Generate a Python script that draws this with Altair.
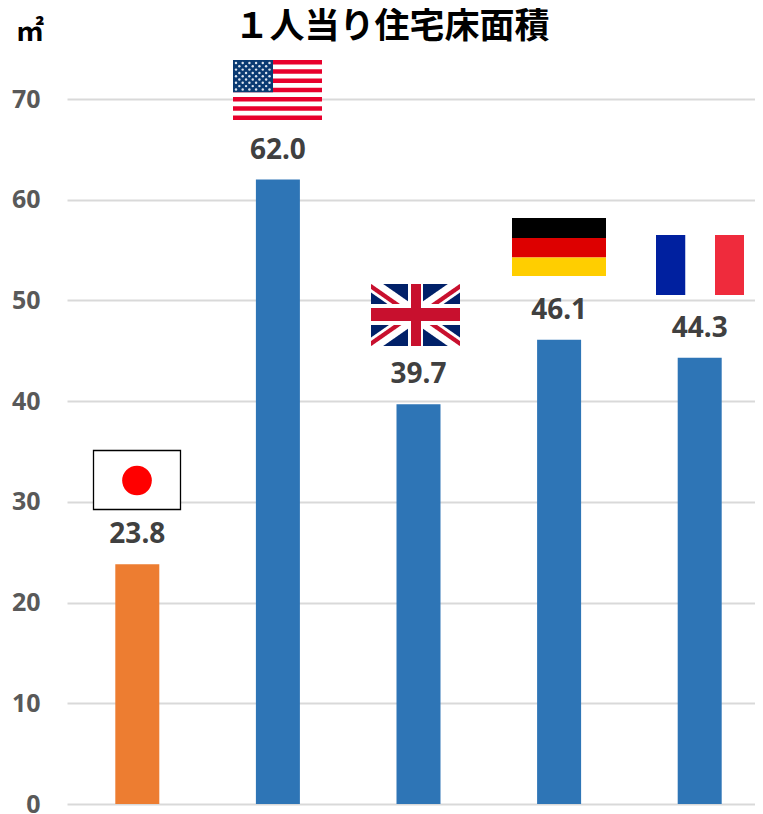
import altair as alt
import numpy as np
import pandas as pd

countries = ["日本", "アメリカ", "イギリス", "ドイツ", "フランス"]
values = [23.8, 62.0, 39.7, 46.1, 44.3]
bar_colors = ["#ED7D31", "#2E75B6", "#2E75B6", "#2E75B6", "#2E75B6"]
tick_values = [0, 10, 20, 30, 40, 50, 60, 70]
title_text = "１人当り住宅床面積"
unit_text = "㎡"

PLOT_LEFT, PLOT_TOP = 67, 99
W, H = 688, 705


def rx(v):
    return v - PLOT_LEFT


def ry(v):
    return v - PLOT_TOP


bars = pd.DataFrame({"country": countries, "value": values, "color": bar_colors})
x_enc = alt.X("country:N", sort=countries,
              scale=alt.Scale(type="band", domain=countries, range=[0, 703], padding=0), axis=None)
y_enc = alt.Y("value:Q", scale=alt.Scale(domain=[0, 70], nice=False),
              axis=alt.Axis(values=tick_values, title=None, grid=True, gridColor="#D9D9D9",
                            gridWidth=2, ticks=False, domain=False, labelPadding=27,
                            labelFont="Noto Sans", labelFontWeight="bold", labelFontSize=25,
                            labelColor="#595959"))

bar_layer = alt.Chart(bars).mark_bar(size=44).encode(
    x=x_enc, y=y_enc, color=alt.Color("color:N", scale=None))
label_layer = alt.Chart(bars).mark_text(
    dy=-29, font="Noto Sans", fontWeight="bold", fontSize=28, color="#404040"
).encode(x=x_enc, y=alt.Y("value:Q", scale=alt.Scale(domain=[0, 70], nice=False), axis=None),
         text=alt.Text("value:Q", format=".1f"))

# flag artwork: rectangles (x0, x1, y0, y1, colour), in picture pixels
rects = []


def add(x0, x1, y0, y1, c):
    rects.append(dict(x=rx(x0), x2=rx(x1), y=ry(y0), y2=ry(y1), c=c))


# USA
us_l, us_r, us_t, us_b = 233, 322, 60, 120
stripe = (us_b - us_t) / 13
add(us_l, us_r, us_t, us_b, "#FFFFFF")
for i in range(0, 13, 2):
    add(us_l, us_r, us_t + i * stripe, us_t + (i + 1) * stripe, "#E8002D")
add(us_l, 273, us_t, 92.3, "#0A3A72")

# UK (background, then saltire below, then crosses)
uk_l, uk_r, uk_t, uk_b = 371, 460, 284, 346
add(uk_l, uk_r, uk_t, uk_b, "#012169")

uk_cross = [(408, 423, uk_t, uk_b, "#FFFFFF"), (uk_l, uk_r, 304, 325, "#FFFFFF"),
            (411, 421, uk_t, uk_b, "#C8102E"), (uk_l, uk_r, 308, 321, "#C8102E")]

# Germany
add(512, 606, 218, 238, "#000000")
add(512, 606, 238, 257.5, "#DD0000")
add(512, 606, 257.5, 276, "#FFCE00")

# France
add(656, 685.5, 235, 295, "#00209F")
add(685.5, 715, 235, 295, "#FFFFFF")
add(715, 744, 235, 295, "#EF2B3C")

flag_df = pd.DataFrame(rects)
cross_df = pd.DataFrame([dict(x=rx(a), x2=rx(b), y=ry(c), y2=ry(d), c=e) for a, b, c, d, e in uk_cross])


def rect_layer(df):
    return alt.Chart(df).mark_rect().encode(
        x=alt.X("x:Q", scale=None, axis=None), x2="x2:Q",
        y=alt.Y("y:Q", scale=None, axis=None), y2="y2:Q",
        color=alt.Color("c:N", scale=None))


# UK diagonals as bands
diag_rows = []
xs = np.arange(uk_l, uk_r + 0.01, 0.5)
slope = (uk_b - uk_t) / (uk_r - uk_l)
for did, sign in enumerate([1, -1]):
    for band, half, shift, col in [("w", 8.5, 0, "#FFFFFF"), ("r", 2.6, 2.4, "#C8102E")]:
        for xv in xs:
            cy = uk_t + slope * (xv - uk_l) if sign > 0 else uk_b - slope * (xv - uk_l)
            # red stripe sits off-centre, alternating around the saltire
            off = shift if (xv < (uk_l + uk_r) / 2) else -shift
            if sign < 0:
                off = -off
            a = float(np.clip(cy + off - half, uk_t, uk_b))
            b = float(np.clip(cy + off + half, uk_t, uk_b))
            diag_rows.append(dict(x=rx(xv), y=ry(a), y2=ry(b), id=f"{did}{band}", c=col))
diag_df = pd.DataFrame(diag_rows)


def diag_layer(band):
    return alt.Chart(diag_df[diag_df.id.str.endswith(band)]).mark_area(interpolate="linear").encode(
        x=alt.X("x:Q", scale=None, axis=None),
        y=alt.Y("y:Q", scale=None, axis=None), y2="y2:Q",
        detail="id:N", color=alt.Color("c:N", scale=None))


# US stars
star_rows = []
for r in range(9):
    n = 6 if r % 2 == 0 else 5
    for k in range(n):
        sx = 236.0 + 6.7 * k + (0 if r % 2 == 0 else 3.35)
        sy = 63.0 + 3.3 * r
        star_rows.append(dict(x=rx(sx), y=ry(sy)))
star_layer = alt.Chart(pd.DataFrame(star_rows)).mark_point(
    filled=True, shape="circle", size=6, color="#DCE4EF", opacity=1
).encode(x=alt.X("x:Q", scale=None, axis=None), y=alt.Y("y:Q", scale=None, axis=None))

# Japan
jp_rect = alt.Chart(pd.DataFrame([dict(x=rx(93.5), x2=rx(180.5), y=ry(450.5), y2=ry(509.5))])).mark_rect(
    fill="#FFFFFF", stroke="#000000", strokeWidth=1.3
).encode(x=alt.X("x:Q", scale=None, axis=None), x2="x2:Q",
         y=alt.Y("y:Q", scale=None, axis=None), y2="y2:Q")
jp_sun = alt.Chart(pd.DataFrame([dict(x=rx(137), y=ry(480.5))])).mark_point(
    filled=True, shape="circle", size=880, color="#FF0000", opacity=1
).encode(x=alt.X("x:Q", scale=None, axis=None), y=alt.Y("y:Q", scale=None, axis=None))

title_layer = alt.Chart(pd.DataFrame([dict(t=title_text, x=rx(392), y=ry(27))])).mark_text(
    font="Noto Sans CJK JP", fontWeight="bold", fontSize=35, color="#000000"
).encode(x=alt.X("x:Q", scale=None, axis=None), y=alt.Y("y:Q", scale=None, axis=None), text="t:N")
unit_layer = alt.Chart(pd.DataFrame([dict(t=unit_text, x=rx(30), y=ry(33))])).mark_text(
    font="Noto Sans CJK JP", fontWeight="bold", fontSize=28, color="#000000"
).encode(x=alt.X("x:Q", scale=None, axis=None), y=alt.Y("y:Q", scale=None, axis=None), text="t:N")

chart = alt.layer(
    bar_layer, label_layer,
    rect_layer(flag_df), star_layer,
    diag_layer("w"), diag_layer("r"), rect_layer(cross_df),
    jp_rect, jp_sun, title_layer, unit_layer,
).resolve_scale(x="independent", y="independent", color="independent").properties(
    width=W, height=H,
    autosize=alt.AutoSizeParams(type="none"),
    padding={"left": 59, "top": 91, "right": 0, "bottom": 10},
).configure_view(stroke=None, clip=False).configure_axis(labelOverlap=False)

chart.save("out.html", embed_options={"renderer": "svg", "actions": False})
